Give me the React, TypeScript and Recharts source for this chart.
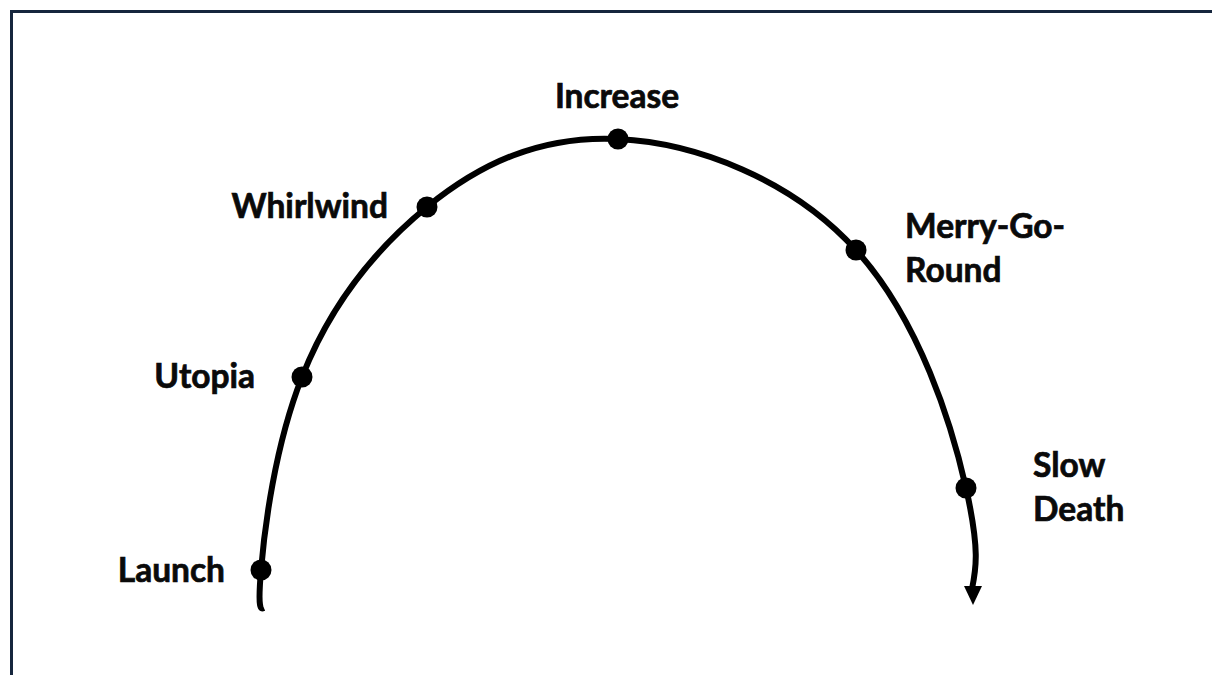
import React from 'react';
import { ComposedChart, Line, Scatter, XAxis, YAxis } from 'recharts';

// stages along the arc (x = progress, y = height above the bottom edge)
const STAGES = ['Launch', 'Utopia', 'Whirlwind', 'Increase', 'Merry-Go-\nRound', 'Slow\nDeath'];
const STAGE_X = [261, 302, 427, 618, 856, 966];
const STAGE_Y = [105, 298, 468, 536, 425, 187];

// points the drawn arc runs through (start, stages, arrow base)
const PATH_X = [264, 261, 302, 427, 618, 856, 966, 972];
const PATH_Y = [67, 105, 298, 468, 536, 425, 187, 86];

// tip of the arrow at the end of the arc
const ARROW_X = [973];
const ARROW_Y = [70];

const W = 1212;
const H = 675;

// where each label sits relative to its dot
const LABEL_POS: { [k: string]: { anchor: 'start' | 'middle' | 'end'; dx: number; dy: number } } = {
  Launch: { anchor: 'end', dx: -36, dy: 12 },
  Utopia: { anchor: 'end', dx: -47, dy: 11 },
  Whirlwind: { anchor: 'end', dx: -39, dy: 11 },
  Increase: { anchor: 'middle', dx: -1, dy: -31 },
  'Merry-Go-\nRound': { anchor: 'start', dx: 49, dy: -12 },
  'Slow\nDeath': { anchor: 'start', dx: 67, dy: -11 },
};

const pathData = PATH_X.map((x, i) => ({ x, y: PATH_Y[i] }));
const stageData = STAGES.map((name, i) => ({ name, x: STAGE_X[i], y: STAGE_Y[i] }));
const arrowData = ARROW_X.map((x, i) => ({ x, y: ARROW_Y[i] }));

const StageDot = (props: any) => {
  const { cx, cy, payload } = props;
  const pos = LABEL_POS[payload.name];
  const lines = String(payload.name).split('\n');
  return (
    <g>
      <circle cx={cx} cy={cy} r={10.5} fill="#000" />
      <text
        x={cx + pos.dx}
        y={cy + pos.dy}
        textAnchor={pos.anchor}
        fontFamily="Lato, 'Open Sans', sans-serif"
        fontWeight={700}
        fontSize={33.5}
        fill="#0a0a0a"
        stroke="#0a0a0a"
        strokeWidth={0.7}
      >
        {lines.map((l, i) => (
          <tspan key={i} x={cx + pos.dx} dy={i === 0 ? 0 : 44}>
            {l}
          </tspan>
        ))}
      </text>
    </g>
  );
};

// downward arrowhead with its tip on the data point
const ArrowHead = (props: any) => {
  const { cx, cy } = props;
  return <polygon points={`${cx - 9},${cy - 19} ${cx + 9},${cy - 19} ${cx},${cy}`} fill="#000" />;
};

export default function App() {
  return (
    <div style={{ position: 'fixed', left: 0, top: 0, width: W, height: H, background: '#fff', overflow: 'hidden' }}>
      <div
        style={{
          position: 'absolute',
          left: 10,
          top: 10,
          width: W,
          height: H,
          borderLeft: '3px solid #16263d',
          borderTop: '3px solid #16263d',
        }}
      />
      <div style={{ position: 'absolute', left: 0, top: 0 }}>
        <ComposedChart width={W} height={H} margin={{ top: 0, right: 0, bottom: 0, left: 0 }}>
          <XAxis type="number" dataKey="x" domain={[0, W]} hide />
          <YAxis type="number" dataKey="y" domain={[0, H]} hide />
          <Line
            data={pathData}
            dataKey="y"
            type="natural"
            stroke="#000"
            strokeWidth={6}
            dot={false}
            activeDot={false}
            isAnimationActive={false}
          />
          <Scatter data={arrowData} dataKey="y" shape={ArrowHead} isAnimationActive={false} />
          <Scatter data={stageData} dataKey="y" shape={StageDot} isAnimationActive={false} />
        </ComposedChart>
      </div>
    </div>
  );
}
